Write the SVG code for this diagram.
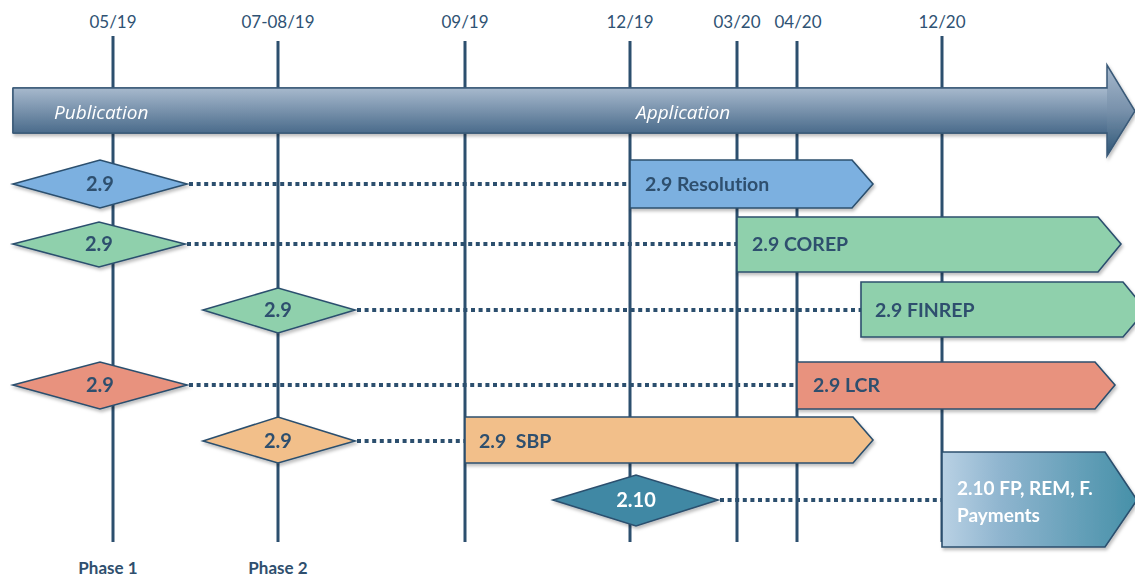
<svg xmlns="http://www.w3.org/2000/svg" width="1135" height="578" viewBox="0 0 1135 578">
<style>
text{font-variant-ligatures:none}
.date{font-family:Lato,"Open Sans",sans-serif;font-size:17px;fill:#2f5273;text-anchor:middle}
.vline{stroke:#2c4f6e;stroke-width:3}
.dot{stroke:#2c4f6e;stroke-width:4;stroke-dasharray:4 3.6;fill:none}
.shape{stroke:#2c4f6e;stroke-width:1.6}
.dlab{font-family:Lato,"Open Sans",sans-serif;font-size:20px;font-weight:bold;fill:#2f4f6e;text-anchor:middle}
.blab{font-family:Lato,"Open Sans",sans-serif;font-size:19.5px;font-weight:bold;fill:#2f4f6e}
.wlab{font-family:Lato,"Open Sans",sans-serif;font-size:19px;font-weight:bold;fill:#ffffff}
.ital{font-family:"Open Sans",Lato,sans-serif;font-size:19px;font-style:italic;fill:#ffffff}
.phase{font-family:Lato,"Open Sans",sans-serif;font-size:17px;font-weight:bold;fill:#2f4f6e;text-anchor:middle}
</style>
<defs>
<linearGradient id="gArrow" x1="0" y1="0" x2="0" y2="1">
<stop offset="0" stop-color="#a7b9cd"/>
<stop offset="1" stop-color="#4a6b8b"/>
</linearGradient>
<linearGradient id="gArrowHead" x1="0" y1="65" x2="0" y2="156" gradientUnits="userSpaceOnUse">
<stop offset="0" stop-color="#a7b9cd"/>
<stop offset="0.5" stop-color="#7891ab"/>
<stop offset="1" stop-color="#2e5676"/>
</linearGradient>
<linearGradient id="gTeal" x1="0" y1="0" x2="1" y2="0">
<stop offset="0" stop-color="#b9d1e4"/>
<stop offset="0.3" stop-color="#8fb5cf"/>
<stop offset="1" stop-color="#4690a8"/>
</linearGradient>
<filter id="sh" x="-5%" y="-20%" width="110%" height="150%">
<feDropShadow dx="1.5" dy="2.5" stdDeviation="1.5" flood-color="#000000" flood-opacity="0.25"/>
</filter>
</defs>

<g id="dates">
<text class="date" x="113" y="28">05/19</text>
<text class="date" x="278" y="28">07-08/19</text>
<text class="date" x="465" y="28">09/19</text>
<text class="date" x="630" y="28">12/19</text>
<text class="date" x="737" y="28">03/20</text>
<text class="date" x="798" y="28">04/20</text>
<text class="date" x="942" y="28">12/20</text>
</g>

<g id="timelines">
<line class="vline" x1="113" y1="36" x2="113" y2="542"/>
<line class="vline" x1="278" y1="41" x2="278" y2="542"/>
<line class="vline" x1="465" y1="41" x2="465" y2="542"/>
<line class="vline" x1="630" y1="41" x2="630" y2="542"/>
<line class="vline" x1="737" y1="41" x2="737" y2="542"/>
<line class="vline" x1="797" y1="41" x2="797" y2="542"/>
<line class="vline" x1="942" y1="36" x2="942" y2="542"/>
</g>

<g id="main-arrow" filter="url(#sh)">
<path d="M13,88 L1107,88 L1107,65 L1135,111 L1107,156 L1107,133 L13,133 Z" fill="url(#gArrowHead)" stroke="#3a5a78" stroke-width="1.5"/>
<rect x="13" y="88" width="1094" height="45" fill="url(#gArrow)" stroke="none"/>
<path d="M13,88 L1107,88 M13,133 L1107,133 M13,88 L13,133" stroke="#3a5a78" stroke-width="1.5" fill="none"/>
<text class="ital" x="54" y="119">Publication</text>
<text class="ital" x="636" y="119">Application</text>
</g>

<g id="connectors">
<line class="dot" x1="189" y1="184" x2="630" y2="184"/>
<line class="dot" x1="187" y1="244" x2="737" y2="244"/>
<line class="dot" x1="357" y1="310" x2="861" y2="310"/>
<line class="dot" x1="189" y1="385" x2="797" y2="385"/>
<line class="dot" x1="357" y1="441" x2="465" y2="441"/>
<line class="dot" x1="720" y1="500" x2="942" y2="500"/>
</g>

<g id="bar-resolution" filter="url(#sh)">
<path class="shape" d="M630,160 L852,160 L873,184 L852,208 L630,208 Z" fill="#7bb0e0"/>
<text class="blab" x="645" y="191">2.9 Resolution</text>
</g>
<g id="bar-corep" filter="url(#sh)">
<path class="shape" d="M737,217 L1098,217 L1121,244 L1098,272 L737,272 Z" fill="#8fd0ac"/>
<text class="blab" x="752" y="251">2.9 COREP</text>
</g>
<g id="bar-finrep" filter="url(#sh)">
<path class="shape" d="M861,282 L1123,282 L1146,310 L1123,337 L861,337 Z" fill="#8fd0ac"/>
<text class="blab" x="875" y="317">2.9 FINREP</text>
</g>
<g id="bar-lcr" filter="url(#sh)">
<path class="shape" d="M797,362 L1095,362 L1115,385 L1095,409 L797,409 Z" fill="#e8927e"/>
<text class="blab" x="813" y="392">2.9 LCR</text>
</g>
<g id="bar-sbp" filter="url(#sh)">
<path class="shape" d="M465,417 L853,417 L873,440 L853,463 L465,463 Z" fill="#f2bf8a"/>
<text class="blab" x="479" y="448" xml:space="preserve">2.9  SBP</text>
</g>
<g id="bar-210" filter="url(#sh)">
<path class="shape" d="M942,452 L1105,452 L1137,500 L1105,547 L942,547 Z" fill="url(#gTeal)"/>
<text class="wlab" x="957" y="495">2.10 FP, REM, F.</text>
<text class="wlab" x="957" y="522">Payments</text>
</g>

<g id="dia-resolution" filter="url(#sh)">
<polygon class="shape" points="13,184 100,160 187,184 100,208" fill="#7bb0e0"/>
<text class="dlab" x="100" y="191">2.9</text>
</g>
<g id="dia-corep" filter="url(#sh)">
<polygon class="shape" points="13,244 99,222 185,244 99,267" fill="#8fd0ac"/>
<text class="dlab" x="99" y="251">2.9</text>
</g>
<g id="dia-finrep" filter="url(#sh)">
<polygon class="shape" points="203,310 278,288 355,310 278,333" fill="#8fd0ac"/>
<text class="dlab" x="278" y="317">2.9</text>
</g>
<g id="dia-lcr" filter="url(#sh)">
<polygon class="shape" points="13,385 100,362 187,385 100,409" fill="#e8927e"/>
<text class="dlab" x="100" y="392">2.9</text>
</g>
<g id="dia-sbp" filter="url(#sh)">
<polygon class="shape" points="203,441 278,417 355,441 278,463" fill="#f2bf8a"/>
<text class="dlab" x="278" y="448">2.9</text>
</g>
<g id="dia-210" filter="url(#sh)">
<polygon class="shape" points="553,500 636,475 718,500 636,526" fill="#3f88a4"/>
<text class="dlab" x="636" y="507" style="fill:#ffffff">2.10</text>
</g>

<g id="phases">
<text class="phase" x="108" y="574">Phase 1</text>
<text class="phase" x="278" y="574">Phase 2</text>
</g>
</svg>
